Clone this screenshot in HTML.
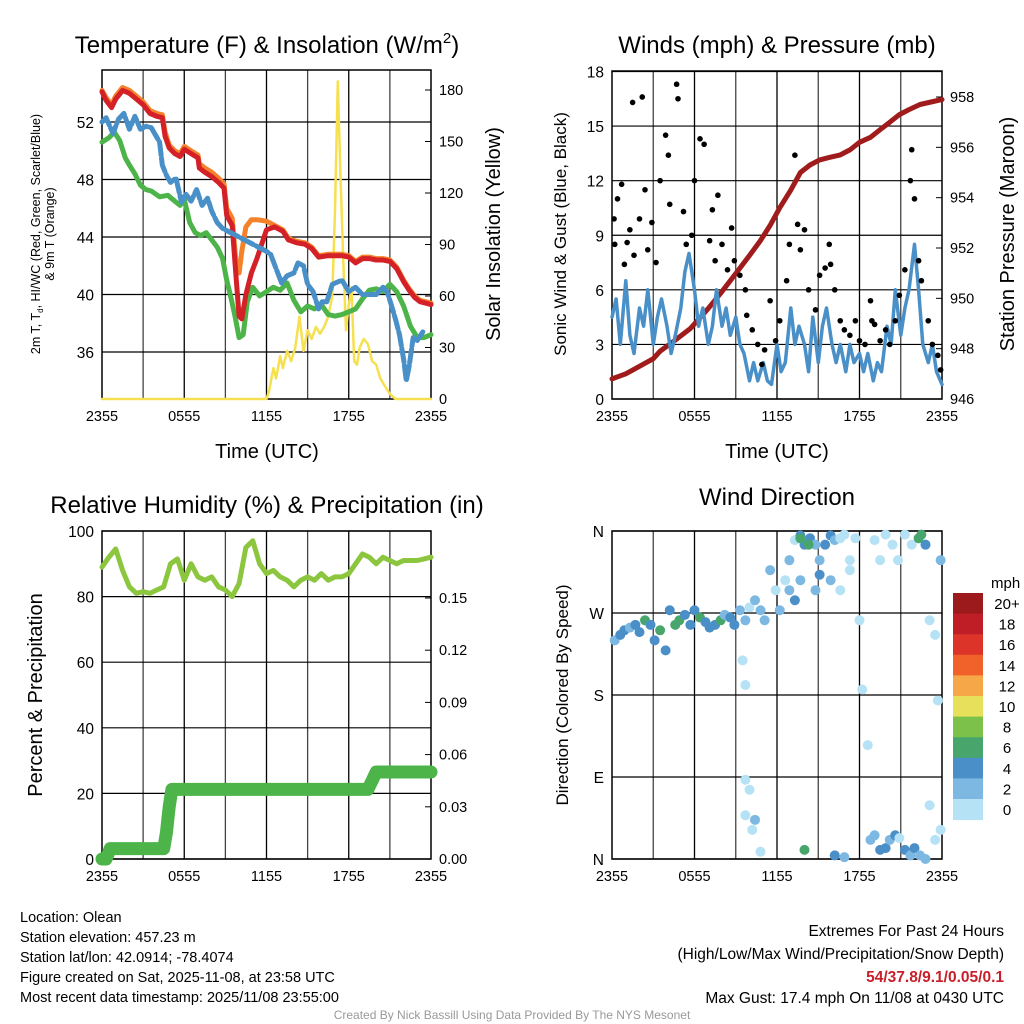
<!DOCTYPE html>
<html><head><meta charset="utf-8"><style>
body{margin:0;background:#fff}
svg{display:block;font-family:"Liberation Sans",sans-serif}
</style></head><body>
<svg id="s" width="1024" height="1024" viewBox="0 0 1024 1024">
<text x="267" y="53" font-size="24" text-anchor="middle">Temperature (F) &amp; Insolation (W/m<tspan font-size="15" dy="-10">2</tspan><tspan dy="10">)</tspan></text>
<text x="777" y="53" font-size="24" text-anchor="middle">Winds (mph) &amp; Pressure (mb)</text>
<text x="267" y="513" font-size="24" text-anchor="middle">Relative Humidity (%) &amp; Precipitation (in)</text>
<text x="777" y="505" font-size="24" text-anchor="middle">Wind Direction</text>
<text transform="translate(40,234) rotate(-90)" font-size="12.5" text-anchor="middle">2m T, T<tspan font-size="8" dy="3">d</tspan><tspan dy="-3">, HI/WC (Red, Green, Scarlet/Blue)</tspan></text>
<text transform="translate(54,234) rotate(-90)" font-size="12.5" text-anchor="middle">&amp; 9m T (Orange)</text>
<text transform="translate(500,234) rotate(-90)" font-size="20" text-anchor="middle">Solar Insolation (Yellow)</text>
<text x="267" y="458" font-size="20" text-anchor="middle">Time (UTC)</text>
<text x="777" y="458" font-size="20" text-anchor="middle">Time (UTC)</text>
<text transform="translate(566,234) rotate(-90)" font-size="17" text-anchor="middle">Sonic Wind &amp; Gust (Blue, Black)</text>
<text transform="translate(1014,234) rotate(-90)" font-size="20" text-anchor="middle">Station Pressure (Maroon)</text>
<text transform="translate(42,695) rotate(-90)" font-size="20" text-anchor="middle">Percent &amp; Precipitation</text>
<text transform="translate(568,695) rotate(-90)" font-size="17" text-anchor="middle">Direction (Colored By Speed)</text>
<text x="20" y="922" font-size="14.5">Location: Olean</text>
<text x="20" y="942" font-size="14.5">Station elevation: 457.23 m</text>
<text x="20" y="962" font-size="14.5">Station lat/lon: 42.0914; -78.4074</text>
<text x="20" y="982" font-size="14.5">Figure created on Sat, 2025-11-08, at 23:58 UTC</text>
<text x="20" y="1002" font-size="14.5">Most recent data timestamp: 2025/11/08 23:55:00</text>
<text x="1004" y="936" font-size="15.5" text-anchor="end">Extremes For Past 24 Hours</text>
<text x="1004" y="959" font-size="15.5" text-anchor="end">(High/Low/Max Wind/Precipitation/Snow Depth)</text>
<text x="1004" y="982" font-size="15.5" font-weight="bold" fill="#c8202a" text-anchor="end">54/37.8/9.1/0.05/0.1</text>
<text x="1004" y="1003" font-size="15.5" text-anchor="end">Max Gust: 17.4 mph On 11/08 at 0430 UTC</text>
<text x="512" y="1019" font-size="12" fill="#999" text-anchor="middle">Created By Nick Bassill Using Data Provided By The NYS Mesonet</text>
<g id="g"></g>
</svg>
<script>
// ---- data ----
const xTickLabels = ["2355","0555","1155","1755","2355"];
const tempT  = [0,0.3,0.7,1,1.5,2,2.5,3,3.5,4,4.4,4.6,4.9,5.3,5.7,6,6.5,7,7.1,7.5,8,8.5,8.9,9.1,9.5,9.8,10,10.2,10.5,10.9,11.3,12,12.6,13.2,13.6,14.2,14.8,15.3,15.8,16.5,17,17.5,18,18.5,19,19.5,20,20.5,21,21.5,22,22.4,22.8,23.2,23.6,24];
const tempV  = [54.1,53.5,53,53.6,54.2,54,53.6,53.2,52.6,52.4,52.3,51,50.2,49.8,49.6,50.1,49.8,49.5,48.8,48.5,48.2,47.8,47.4,45.5,44.8,41,38.5,38.3,40,41.5,42.5,44.5,44.7,44.4,43.8,43.6,43.5,43.2,42.6,42.7,42.7,42.7,42.6,42.2,42.5,42.5,42.4,42.4,42.3,41.8,40.9,40.3,39.8,39.5,39.4,39.3];
const orangeV= [54.2,53.7,53.2,53.8,54.4,54.2,53.8,53.4,52.8,52.6,52.5,51.3,50.4,50,49.8,50.3,50,49.7,49.1,48.8,48.5,48.1,47.7,46,45.3,42,41.5,43,44.7,45.2,45.2,45.1,44.8,44.5,43.9,43.7,43.6,43.3,42.7,42.8,42.8,42.8,42.7,42.3,42.6,42.6,42.5,42.5,42.4,41.9,41,40.4,39.9,39.6,39.5,39.4];
const dewT = [0,0.5,0.9,1.3,1.7,2,2.4,2.8,3.2,3.6,4.2,4.8,5.3,5.7,6,6.4,6.8,7.2,7.6,8,8.4,8.8,9.1,9.4,9.7,10,10.3,10.6,11,11.5,12,12.5,13,13.5,14,14.5,15,15.5,16,16.5,17,17.5,18,18.5,19,19.5,20,20.5,21,21.5,22,22.5,23,23.5,24];
const dewV = [50.6,50.9,51.3,50.7,49.5,49,48.4,47.6,47.3,47.2,46.8,46.9,46.5,46.2,46.6,45,44.3,44.1,44.3,43.8,43.3,42.5,41,39.8,38.5,37,37.2,39.5,40.5,39.9,40.2,40.5,40.3,40.8,39.6,38.8,39.2,39,39.3,38.6,38.5,38.6,38.8,39,39.7,40.3,40.4,40.2,40.7,40.2,39.2,37.8,37,37,37.2];
const hiT = [0,0.3,0.8,1.2,1.6,2,2.4,2.8,3.2,3.6,4.2,4.4,4.7,5,5.4,5.8,6.1,6.5,6.9,7.3,7.7,8,8.4,8.8,12,12.3,13.1,13.5,14,14.3,14.7,15,15.4,15.8,16,16.4,16.8,17.5,18,18.5,19,19.5,20,20.5,20.8,21.1,21.4,21.7,22,22.2,22.4,22.7,23,23.4];
const hiV = [52,52.3,51.2,52.2,52.6,51.5,52.4,51.5,51.7,51.6,50.6,49,48.3,47.8,48.1,46.4,47,46.5,47.3,46.2,46.7,45.8,45,44.6,43,42.8,40.8,41.3,41.5,42.2,42,40.7,40.2,39,39.5,39.5,40.7,41,40.2,40.5,40,40,40,40.5,40.2,39.3,38.3,37.2,35.5,34,35,37,36.8,37.4];
const solT = [0,12,12.2,12.5,12.7,13,13.2,13.5,13.8,14.1,14.4,14.7,15,15.3,15.6,15.9,16.2,16.5,16.8,17,17.2,17.4,17.6,17.8,18,18.2,18.4,18.6,18.8,19.1,19.4,19.7,20,20.3,20.6,21,21.4,24];
const solV = [0,0,5,18,12,25,18,28,22,30,48,28,40,35,42,38,42,48,60,110,185,130,80,40,55,65,22,20,30,35,32,22,20,12,8,3,0,0];
const windT = [0,0.3,0.6,1,1.3,1.6,2,2.3,2.6,3,3.3,3.6,4,4.3,4.6,5,5.3,5.6,6,6.3,6.6,7,7.3,7.6,8,8.3,8.6,9,9.3,9.6,10,10.3,10.6,11,11.3,11.6,12,12.3,12.6,13,13.3,13.6,14,14.3,14.6,15,15.3,15.6,16,16.3,16.6,17,17.3,17.6,18,18.3,18.6,19,19.3,19.6,20,20.3,20.6,21,21.3,21.6,22,22.3,22.6,23,23.3,23.6,24];
const windV = [4.5,5.5,3,6.5,3.5,2.5,5,4,6,3,4.5,5.5,4,2.5,3.5,5,7,8,6,4,5,3,4,6,4,5,3.5,4.5,3,2.5,1,2,1,2,1,0.8,3,1.5,2,5,3,4,3,1.5,4.5,2,4,5,3,2,3,1.5,3,2,2.5,1.5,2.5,1,2,1.5,4,3,6,3.5,5,6,8.5,6,3,2,3,1.5,0.8];
const presT = [0,1,2,3,3.5,4.5,5.7,7,7.9,8.6,9.3,10,10.8,11.5,12.2,13,13.7,14.4,15.1,15.8,16.6,17.3,18,18.8,19.5,20.2,20.9,21.6,22.4,23.2,24];
const presV = [946.8,947,947.3,947.6,947.9,948.3,948.8,949.6,950.2,950.7,951.2,951.7,952.3,952.9,953.6,954.3,955,955.3,955.5,955.6,955.7,955.9,956.2,956.4,956.7,957,957.3,957.5,957.7,957.8,957.9];
const gustT = [0.15,0.4,0.7,1.1,1.3,1.6,2,2.4,1.5,2.2,2.9,3.5,3.9,4.1,4.2,4.7,4.8,5.2,5.4,6,6.4,6.7,7.1,7.3,7.7,8,8.4,8.7,8.9,9.3,9.7,10.2,10.6,10.9,11.5,11.9,12.2,12.7,12.9,13.3,13.7,14,14.3,14.8,15.1,15.5,15.9,16.2,16.6,16.9,17.3,17.7,18,18.4,18.8,19.1,19.5,19.9,20.2,20.6,20.9,21.3,21.7,21.8,22,22.3,22.5,23,23.3,23.7,23.9,0.2,0.9,2.6,3.2,5.8,7.5,9.8,11.1,13.5,15.8,18.9];
const gustV = [9.9,11,11.8,8.6,9.3,7.9,9.9,11.5,16.3,16.6,9.7,12,14.5,13.4,10.7,17.3,16.5,10.3,8.5,12,14.3,14,8.7,10.4,11.2,8.5,7.1,9.4,7.6,6.8,6,3.8,3,1.9,5.4,3.2,4.3,6.5,8.5,13.4,8.2,9.3,6,4.9,6.8,7.2,7.4,6,4.3,3.8,3.5,4.3,3.2,3,5.4,4.1,3.2,3.8,3,4.3,5.7,7.1,12,13.7,11,7.6,6.5,4.3,3,2.4,1.6,8.5,7.4,8.2,7.5,9,7.6,4.6,2.7,9.6,8.5,4.3];
const rhT = [0,0.5,1,1.5,2,2.5,3,3.5,4,4.5,5,5.5,6,6.5,7,7.5,8,8.5,9,9.5,10,10.5,11,11.5,12,12.5,13,13.5,14,14.5,15,15.5,16,16.5,17,17.5,18,18.5,19,19.5,20,20.5,21,21.5,22,22.5,23,23.5,24];
const rhV = [89,92,94.5,88,83,81,81.5,81,82,83,90,91.5,85,90,86,85,86,83,82,80,84,95,97,90,87,88,86,85,83,85,86,85,87,85,86,86,87,90,93,92,90,92,91,90,91,91,91,91.5,92];
const pcpT = [0,0.3,0.6,4.5,4.7,4.9,5.1,19.4,19.7,20,24];
const pcpV = [0,0,0.006,0.006,0.015,0.03,0.04,0.04,0.045,0.05,0.05];
const dirT = [0.2,0.6,0.9,1.3,1.7,2,2.4,2.8,3.1,3.5,3.9,4.2,4.6,4.9,5.3,5.7,6,6.4,6.8,7.1,7.5,7.9,8.2,8.6,8.9,9.3,9.7,10,9.5,9.7,10.4,10.8,11.1,11.5,11.9,12.2,12.6,12.9,13.3,13.7,14,14.4,14.8,15.1,15.5,15.9,16.2,16.6,16.9,17.3,17.7,12.9,13.3,13.7,14.8,15.1,15.9,16.6,17.3,18,18.2,18.6,19.1,19.5,19.9,20.4,20.8,21.3,21.8,22.3,22.8,23.1,23.5,23.7,23.9,9.7,10,9.7,10.2,10.8,10.4,14,16.2,16.9,18.8,19.1,19.5,19.9,20.2,20.6,20.9,21.3,21.7,22,22.4,22.8,23.1,23.5,23.9,22.8,22.3,22.5,13.7,14.3];
const dirD = [240,246,251,254,257,249,262,257,240,251,229,273,257,262,268,257,273,265,260,254,257,262,268,265,257,273,262,276,218,191,284,273,262,317,295,273,306,328,350,355,345,352,345,328,345,355,350,352,356,328,352,295,284,306,295,312,306,295,317,262,186,125,350,328,356,345,328,356,345,352,345,262,246,174,328,87,76,48,32,8,43,10,4,2,21,26,10,12,21,26,23,10,4,12,4,0,59,21,32,345,352,356,352,345];
const dirS = [3,4,4,3,5,4,6,5,4,6,4,5,6,6,4,5,4,6,4,5,4,6,3,5,4,2,2,1,1,1,3,2,3,2,1,3,1,2,1,5,4,4,3,2,4,4,2,1,1,1,1,3,4,3,3,4,2,1,1,1,1,1,1,1,1,1,1,1,1,1,1,1,1,1,2,1,1,1,1,1,2,6,4,2,3,3,4,5,3,4,1,5,3,4,2,3,1,1,1,4,6,6,6,6];
const cbLabels = ["20+","18","16","14","12","10","8","6","4","2","0"];
const cbColors = ["#9c1a1c","#c01e26","#dc3428","#f0622a","#f6a848","#e6e05a","#7cc24a","#48a66c","#4a8fc8","#7cb8e2","#b6e2f6"];

const NS="http://www.w3.org/2000/svg";
const G=document.getElementById('g');
function el(tag,p){const e=document.createElementNS(NS,tag);(p||G).appendChild(e);return e;}
function set(e,o){for(const k in o)e.setAttribute(k,o[k]);return e;}
function scale(d0,d1,r0,r1){return v=>r0+(v-d0)/(d1-d0)*(r1-r0);}

function frame(P,name,yTicks,yLab,yFn,rTicks,rLab,rFn,xl){
  for(let h=3;h<24;h+=3){const l=el('line');set(l,{x1:P.xs(h),x2:P.xs(h),y1:P.y0,y2:P.y1,stroke:h%6?'#444':'#000','stroke-width':1.3});
    
    }
  yTicks.forEach((v,i)=>{const y=yFn(v);
    const l=el('line');set(l,{x1:P.x0,x2:P.x1,y1:y,y2:y,stroke:'#000','stroke-width':1.2});
    
    
    const t=el('text');set(t,{x:P.x0-8,y:y+6,'font-size':15.5,'text-anchor':'end'});t.textContent=yLab[i];
    
    });
  rTicks.forEach((v,i)=>{const y=rFn(v);
    const l=el('line');set(l,{x1:P.x1,x2:P.x1-6,y1:y,y2:y,stroke:'#000'});
    
    
    const t=el('text');set(t,{x:P.x1+8,y:y+5,'font-size':14.5});t.textContent=rLab[i];
    
    });
  xTickLabels.forEach((s,i)=>{const t=el('text');set(t,{x:P.xs(i*6),y:P.y1+22,'font-size':14.5,'text-anchor':'middle'});t.textContent=s;
    
    });
  const r=el('rect');set(r,{x:P.x0,y:P.y0,width:P.x1-P.x0,height:P.y1-P.y0,fill:'none',stroke:'#000','stroke-width':1.5});
  
  
}
function line(T,V,xs,ys,col,w,name){const p=el('polyline');
  set(p,{points:T.map((t,i)=>xs(t).toFixed(1)+','+ys(V[i]).toFixed(1)).join(' '),fill:'none',stroke:col,'stroke-width':w,'stroke-linejoin':'round','stroke-linecap':'round'});
  
  return p;}

// Panel 1
const P1={x0:102,x1:431,y0:70,y1:399};P1.xs=scale(0,24,P1.x0,P1.x1);
const t1=scale(36,52,352,122), s1=scale(0,180,399,90);
frame(P1,'temp',[36,40,44,48,52],['36','40','44','48','52'],t1,[0,30,60,90,120,150,180],['0','30','60','90','120','150','180'],s1);
line(solT,solV,P1.xs,s1,'#f6e050',2.5,'insolation-line');
line(dewT,dewV,P1.xs,t1,'#4cb448',5,'dewpoint-line');
line(tempT,orangeV,P1.xs,t1,'#f5822a',5,'temp-9m-line');
line(tempT,tempV,P1.xs,t1,'#d42027',5,'temp-2m-line');
line(hiT,hiV,P1.xs,t1,'#4a90c8',5,'windchill-line').setAttribute('stroke-dasharray','14 3');

// Panel 2
const P2={x0:612,x1:942,y0:71,y1:399};P2.xs=scale(0,24,P2.x0,P2.x1);
const w2=scale(0,18,399,71.5), p2=scale(946,958,399,97);
frame(P2,'wind',[0,3,6,9,12,15,18],['0','3','6','9','12','15','18'],w2,[946,948,950,952,954,956,958],['946','948','950','952','954','956','958'],p2);
line(presT,presV,P2.xs,p2,'#a01c1c',5,'pressure-line');
line(windT,windV,P2.xs,w2,'#4a90c8',3.5,'sonic-wind-line');
gustT.forEach((t,i)=>{const c=el('circle');set(c,{cx:P2.xs(t),cy:w2(gustV[i]),r:2.8,fill:'#000'});
  
  });

// Panel 3
const P3={x0:102,x1:431,y0:531,y1:859};P3.xs=scale(0,24,P3.x0,P3.x1);
const r3=scale(0,100,859,531), q3=scale(0,0.15,859,598);
frame(P3,'rh',[0,20,40,60,80,100],['0','20','40','60','80','100'],r3,[0,0.03,0.06,0.09,0.12,0.15],['0.00','0.03','0.06','0.09','0.12','0.15'],q3);
line(rhT,rhV,P3.xs,r3,'#8cc63e',5,'rh-line');
line(pcpT,pcpV,P3.xs,q3,'#4cb448',13,'precip-line');

// Panel 4
const P4={x0:612,x1:942,y0:531,y1:859};P4.xs=scale(0,24,P4.x0,P4.x1);
const d4=scale(0,360,859,531);
frame(P4,'dir',[0,90,180,270,360],['N','E','S','W','N'],d4,[],[],d4);
function spdColor(s){const k=Math.min(10,Math.floor(s/2));return cbColors[10-k];}
dirT.forEach((t,i)=>{const c=el('circle');set(c,{cx:P4.xs(t),cy:d4(dirD[i]),r:5,fill:spdColor(dirS[i])});
  
  });
const cbTop=593,cbH=20.6;
const cbt=el('text');set(cbt,{x:991,y:588,'font-size':15});cbt.textContent='mph';


cbColors.forEach((c,i)=>{const r=el('rect');set(r,{x:953,y:cbTop+i*cbH,width:30,height:cbH+0.5,fill:c});
  
  
  const t=el('text');set(t,{x:1007,y:cbTop+i*cbH+16,'font-size':15,'text-anchor':'middle'});t.textContent=cbLabels[i];
  
  });
</script>
</body></html>
